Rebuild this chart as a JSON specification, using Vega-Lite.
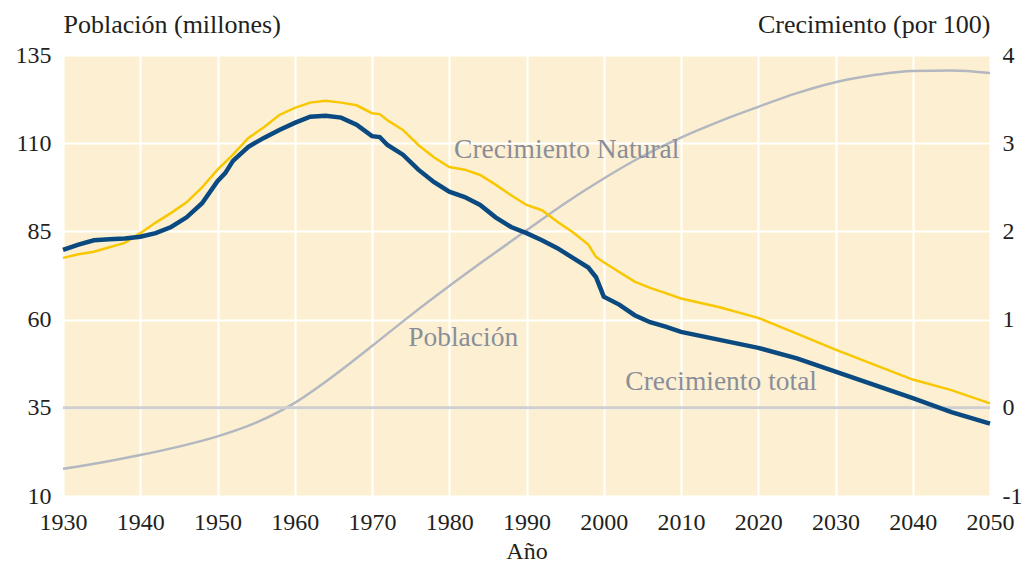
{
  "$schema": "https://vega.github.io/schema/vega-lite/v6.json",
  "width": 927,
  "height": 441,
  "autosize": {"type": "none"},
  "padding": {"left": 63, "top": 55, "right": 42, "bottom": 72},
  "background": "white",
  "config": {
    "view": {"fill": "#fdf0d2", "stroke": null},
    "font": "Liberation Serif, Times New Roman, serif",
    "axis": {
      "labelFont": "Liberation Serif, Times New Roman, serif",
      "titleFont": "Liberation Serif, Times New Roman, serif",
      "labelFontSize": 24,
      "titleFontSize": 26,
      "labelColor": "#231f20",
      "titleColor": "#231f20",
      "titleFontWeight": "normal",
      "domain": false,
      "ticks": false,
      "gridColor": "#ffffff",
      "gridWidth": 2,
      "gridOpacity": 1
    }
  },
  "datasets": {
    "pop": [
      {"year": 1930, "pob": 17.7},
      {"year": 1935, "pob": 19.5},
      {"year": 1940, "pob": 21.6},
      {"year": 1945, "pob": 24.0},
      {"year": 1950, "pob": 26.9},
      {"year": 1955, "pob": 30.8},
      {"year": 1960, "pob": 36.4},
      {"year": 1965, "pob": 44.0},
      {"year": 1970, "pob": 52.5},
      {"year": 1975, "pob": 61.2},
      {"year": 1980, "pob": 69.5},
      {"year": 1985, "pob": 77.5},
      {"year": 1990, "pob": 85.3},
      {"year": 1995, "pob": 93.0},
      {"year": 2000, "pob": 100.0},
      {"year": 2005, "pob": 106.3},
      {"year": 2010, "pob": 111.6},
      {"year": 2015, "pob": 116.2},
      {"year": 2020, "pob": 120.3},
      {"year": 2025, "pob": 124.2},
      {"year": 2030, "pob": 127.3},
      {"year": 2035, "pob": 129.3},
      {"year": 2040, "pob": 130.5},
      {"year": 2045, "pob": 130.6},
      {"year": 2050, "pob": 129.9}
    ],
    "growth": [
      {"year": 1930, "serie": "total", "valor": 1.79},
      {"year": 1932, "serie": "total", "valor": 1.85},
      {"year": 1934, "serie": "total", "valor": 1.90},
      {"year": 1936, "serie": "total", "valor": 1.91},
      {"year": 1938, "serie": "total", "valor": 1.92},
      {"year": 1940, "serie": "total", "valor": 1.94},
      {"year": 1942, "serie": "total", "valor": 1.98},
      {"year": 1944, "serie": "total", "valor": 2.05},
      {"year": 1946, "serie": "total", "valor": 2.16},
      {"year": 1948, "serie": "total", "valor": 2.32},
      {"year": 1950, "serie": "total", "valor": 2.57},
      {"year": 1951, "serie": "total", "valor": 2.66},
      {"year": 1952, "serie": "total", "valor": 2.80},
      {"year": 1954, "serie": "total", "valor": 2.96},
      {"year": 1956, "serie": "total", "valor": 3.06},
      {"year": 1958, "serie": "total", "valor": 3.15},
      {"year": 1960, "serie": "total", "valor": 3.23},
      {"year": 1962, "serie": "total", "valor": 3.30},
      {"year": 1964, "serie": "total", "valor": 3.31},
      {"year": 1966, "serie": "total", "valor": 3.29},
      {"year": 1968, "serie": "total", "valor": 3.21},
      {"year": 1970, "serie": "total", "valor": 3.08},
      {"year": 1971, "serie": "total", "valor": 3.07},
      {"year": 1972, "serie": "total", "valor": 2.98},
      {"year": 1974, "serie": "total", "valor": 2.87},
      {"year": 1976, "serie": "total", "valor": 2.70},
      {"year": 1978, "serie": "total", "valor": 2.56},
      {"year": 1980, "serie": "total", "valor": 2.45},
      {"year": 1982, "serie": "total", "valor": 2.39},
      {"year": 1984, "serie": "total", "valor": 2.30},
      {"year": 1986, "serie": "total", "valor": 2.16},
      {"year": 1988, "serie": "total", "valor": 2.05},
      {"year": 1990, "serie": "total", "valor": 1.98},
      {"year": 1992, "serie": "total", "valor": 1.90},
      {"year": 1994, "serie": "total", "valor": 1.81},
      {"year": 1996, "serie": "total", "valor": 1.70},
      {"year": 1998, "serie": "total", "valor": 1.59},
      {"year": 1999, "serie": "total", "valor": 1.48},
      {"year": 2000, "serie": "total", "valor": 1.26},
      {"year": 2002, "serie": "total", "valor": 1.17},
      {"year": 2004, "serie": "total", "valor": 1.05},
      {"year": 2006, "serie": "total", "valor": 0.97},
      {"year": 2008, "serie": "total", "valor": 0.92},
      {"year": 2010, "serie": "total", "valor": 0.86},
      {"year": 2015, "serie": "total", "valor": 0.77},
      {"year": 2020, "serie": "total", "valor": 0.68},
      {"year": 2025, "serie": "total", "valor": 0.56},
      {"year": 2030, "serie": "total", "valor": 0.41},
      {"year": 2035, "serie": "total", "valor": 0.26},
      {"year": 2040, "serie": "total", "valor": 0.11},
      {"year": 2045, "serie": "total", "valor": -0.05},
      {"year": 2050, "serie": "total", "valor": -0.18},
      {"year": 1930, "serie": "natural", "valor": 1.70},
      {"year": 1932, "serie": "natural", "valor": 1.74},
      {"year": 1934, "serie": "natural", "valor": 1.77},
      {"year": 1936, "serie": "natural", "valor": 1.82},
      {"year": 1938, "serie": "natural", "valor": 1.87},
      {"year": 1940, "serie": "natural", "valor": 1.98},
      {"year": 1942, "serie": "natural", "valor": 2.10},
      {"year": 1944, "serie": "natural", "valor": 2.21},
      {"year": 1946, "serie": "natural", "valor": 2.33},
      {"year": 1948, "serie": "natural", "valor": 2.50},
      {"year": 1950, "serie": "natural", "valor": 2.70},
      {"year": 1952, "serie": "natural", "valor": 2.87},
      {"year": 1954, "serie": "natural", "valor": 3.06},
      {"year": 1956, "serie": "natural", "valor": 3.18},
      {"year": 1958, "serie": "natural", "valor": 3.32},
      {"year": 1960, "serie": "natural", "valor": 3.40},
      {"year": 1962, "serie": "natural", "valor": 3.46},
      {"year": 1964, "serie": "natural", "valor": 3.48},
      {"year": 1966, "serie": "natural", "valor": 3.46},
      {"year": 1968, "serie": "natural", "valor": 3.43},
      {"year": 1970, "serie": "natural", "valor": 3.34},
      {"year": 1971, "serie": "natural", "valor": 3.33},
      {"year": 1972, "serie": "natural", "valor": 3.26},
      {"year": 1974, "serie": "natural", "valor": 3.15},
      {"year": 1976, "serie": "natural", "valor": 2.98},
      {"year": 1978, "serie": "natural", "valor": 2.84},
      {"year": 1980, "serie": "natural", "valor": 2.73},
      {"year": 1982, "serie": "natural", "valor": 2.70},
      {"year": 1984, "serie": "natural", "valor": 2.64},
      {"year": 1986, "serie": "natural", "valor": 2.53},
      {"year": 1988, "serie": "natural", "valor": 2.41},
      {"year": 1990, "serie": "natural", "valor": 2.30},
      {"year": 1992, "serie": "natural", "valor": 2.24},
      {"year": 1994, "serie": "natural", "valor": 2.11},
      {"year": 1996, "serie": "natural", "valor": 1.99},
      {"year": 1998, "serie": "natural", "valor": 1.85},
      {"year": 1999, "serie": "natural", "valor": 1.71},
      {"year": 2000, "serie": "natural", "valor": 1.65},
      {"year": 2002, "serie": "natural", "valor": 1.54},
      {"year": 2004, "serie": "natural", "valor": 1.43},
      {"year": 2006, "serie": "natural", "valor": 1.36},
      {"year": 2008, "serie": "natural", "valor": 1.30},
      {"year": 2010, "serie": "natural", "valor": 1.24},
      {"year": 2015, "serie": "natural", "valor": 1.14},
      {"year": 2020, "serie": "natural", "valor": 1.02},
      {"year": 2025, "serie": "natural", "valor": 0.84},
      {"year": 2030, "serie": "natural", "valor": 0.66},
      {"year": 2035, "serie": "natural", "valor": 0.49},
      {"year": 2040, "serie": "natural", "valor": 0.32},
      {"year": 2045, "serie": "natural", "valor": 0.20},
      {"year": 2050, "serie": "natural", "valor": 0.05}
    ],
    "labels": [
      {"year": 1995.2, "valor": 2.92, "texto": "Crecimiento Natural"},
      {"year": 1981.8, "valor": 0.79, "texto": "Población"},
      {"year": 2015.2, "valor": 0.29, "texto": "Crecimiento total"}
    ],
    "zero": [{"valor": 0}]
  },
  "layer": [
    {
      "data": {"name": "pop"},
      "mark": {"type": "line", "color": "#b3b7c0", "strokeWidth": 2.5, "interpolate": "monotone"},
      "encoding": {
        "x": {
          "field": "year", "type": "quantitative",
          "scale": {"domain": [1930, 2050], "nice": false, "zero": false},
          "axis": {
            "values": [1930, 1940, 1950, 1960, 1970, 1980, 1990, 2000, 2010, 2020, 2030, 2040, 2050],
            "format": "d", "grid": true, "labelPadding": 14, "title": "Año",
            "titleFontSize": 24, "titlePadding": 5, "labelFlush": false
          }
        },
        "y": {
          "field": "pob", "type": "quantitative",
          "scale": {"domain": [10, 135], "nice": false, "zero": false},
          "axis": {
            "orient": "left",
            "values": [10, 35, 60, 85, 110, 135],
            "grid": true, "labelPadding": 12,
            "title": "Población (millones)",
            "titleAngle": 0, "titleAlign": "left", "titleBaseline": "middle",
            "titleX": 0, "titleY": -31
          }
        }
      }
    },
    {
      "layer": [
        {
          "data": {"name": "zero"},
          "mark": {"type": "rule", "color": "#cfcfcf", "strokeWidth": 3},
          "encoding": {"y": {"field": "valor", "type": "quantitative"}}
        },
        {
          "data": {"name": "growth"},
          "transform": [{"filter": "datum.serie === 'natural'"}],
          "mark": {"type": "line", "color": "#f8c700", "strokeWidth": 2.5},
          "encoding": {
            "x": {"field": "year", "type": "quantitative"},
            "y": {"field": "valor", "type": "quantitative"}
          }
        },
        {
          "data": {"name": "growth"},
          "transform": [{"filter": "datum.serie === 'total'"}],
          "mark": {"type": "line", "color": "#0b4a80", "strokeWidth": 4.5},
          "encoding": {
            "x": {"field": "year", "type": "quantitative"},
            "y": {"field": "valor", "type": "quantitative"}
          }
        },
        {
          "data": {"name": "labels"},
          "mark": {"type": "text", "font": "Liberation Serif, Times New Roman, serif", "fontSize": 27.5, "color": "#8a8e99", "align": "center", "baseline": "middle"},
          "encoding": {
            "x": {"field": "year", "type": "quantitative"},
            "y": {"field": "valor", "type": "quantitative"},
            "text": {"field": "texto"}
          }
        }
      ],
      "encoding": {
        "y": {
          "type": "quantitative",
          "scale": {"domain": [-1, 4], "nice": false, "zero": false},
          "axis": {
            "orient": "right",
            "values": [-1, 0, 1, 2, 3, 4],
            "labelExpr": "datum.value < 0 ? '-' + abs(datum.value) : '' + datum.value",
            "grid": false, "labelPadding": 12,
            "title": "Crecimiento (por 100)",
            "titleAngle": 0, "titleAlign": "right", "titleBaseline": "middle",
            "titleX": 0, "titleY": -31
          }
        }
      }
    }
  ],
  "resolve": {"scale": {"y": "independent"}}
}
